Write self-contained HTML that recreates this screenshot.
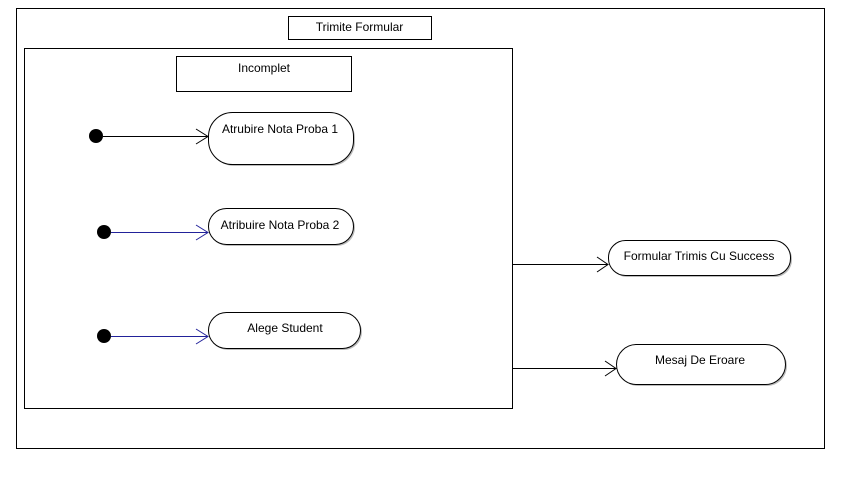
<!DOCTYPE html>
<html><head><meta charset="utf-8"><style>
html,body{margin:0;padding:0;background:#fff;}
svg{display:block;}
text{font-family:"Liberation Sans",sans-serif;font-size:12px;fill:#000;}
</style></head><body>
<svg width="846" height="478" viewBox="0 0 846 478" xmlns="http://www.w3.org/2000/svg">
<g fill="none" stroke="#000" stroke-width="1">
<rect x="16.5" y="8.5" width="808" height="440"/>
<rect x="288.5" y="16.5" width="143" height="23"/>
<rect x="24.5" y="48.5" width="488" height="360"/>
<rect x="176.5" y="56.5" width="175" height="35"/>
</g>
<text x="359.5" y="31" text-anchor="middle">Trimite Formular</text>
<text x="264" y="72" text-anchor="middle">Incomplet</text>
<!-- shadows -->
<g fill="#bbb" stroke="none">
<rect x="210" y="114" width="145" height="52" rx="24"/>
<rect x="210" y="210" width="145" height="36" rx="18"/>
<rect x="210" y="314" width="152" height="36" rx="18"/>
<rect x="610" y="242" width="182" height="35" rx="17"/>
<rect x="618" y="346" width="169" height="40" rx="20"/>
</g>
<g fill="#fff" stroke="#000" stroke-width="1">
<rect x="208.5" y="112.5" width="145" height="52" rx="24"/>
<rect x="208.5" y="208.5" width="145" height="36" rx="18"/>
<rect x="208.5" y="312.5" width="152" height="36" rx="18"/>
<rect x="608.5" y="240.5" width="182" height="35" rx="17"/>
<rect x="616.5" y="344.5" width="169" height="40" rx="20"/>
</g>
<text x="280" y="133" text-anchor="middle">Atrubire Nota Proba 1</text>
<text x="280" y="229" text-anchor="middle">Atribuire Nota Proba 2</text>
<text x="285" y="332" text-anchor="middle">Alege Student</text>
<text x="699" y="260" text-anchor="middle">Formular Trimis Cu Success</text>
<text x="700" y="364" text-anchor="middle">Mesaj De Eroare</text>
<!-- start dots -->
<g fill="#000">
<circle cx="96" cy="136" r="7"/>
<circle cx="104" cy="232" r="7"/>
<circle cx="104" cy="336" r="7"/>
</g>
<g fill="none" stroke-width="1">
<path d="M103 136.5H208M196 129L208 136.5L196 144" stroke="#000"/>
<path d="M111 232.5H208M196 225L208 232.5L196 240" stroke="#22229a"/>
<path d="M111 336.5H208M196 329L208 336.5L196 344" stroke="#22229a"/>
<path d="M512 264.5H608M597 257L608 264.5L597 272" stroke="#000"/>
<path d="M512 368.5H616M605 361L616 368.5L605 376" stroke="#000"/>
</g>
</svg>
</body></html>
